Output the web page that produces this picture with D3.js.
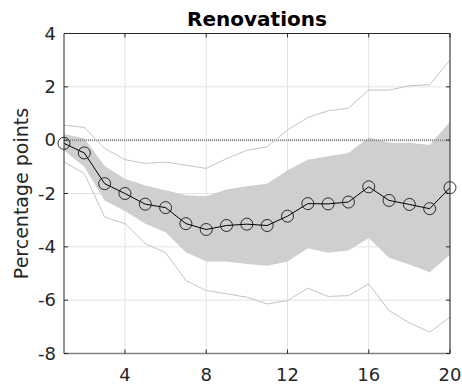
<!DOCTYPE html>
<html>
<head>
<meta charset="utf-8">
<script src="https://cdn.jsdelivr.net/npm/d3@7"></script>
<style>
  body { margin: 0; background: #fff; }
  text { font-family: "DejaVu Sans", sans-serif; fill: #262626; }
</style>
</head>
<body>
<svg class="chart" width="462" height="387"></svg>
<script>
// horizon (quarters)
const horizon = d3.range(1, 21);
// point estimate
const estimate = [-0.12, -0.48, -1.63, -2.0, -2.4, -2.53, -3.13, -3.35, -3.2, -3.15,
    -3.2, -2.85, -2.38, -2.39, -2.32, -1.75, -2.26, -2.41, -2.57, -1.78];
// inner band (shaded)
const bandUpper = [0.23, 0.06, -0.97, -1.45, -1.7, -1.88, -2.07, -2.1, -1.85, -1.73,
    -1.63, -1.13, -0.73, -0.6, -0.48, 0.1, -0.1, -0.1, -0.18, 0.69];
const bandLower = [-0.38, -1.0, -2.26, -2.66, -3.13, -3.45, -4.2, -4.55, -4.55, -4.64,
    -4.71, -4.55, -4.05, -4.22, -4.14, -3.67, -4.41, -4.66, -4.95, -4.3];
// outer band (thin lines)
const outerUpper = [0.56, 0.48, -0.31, -0.73, -0.87, -0.82, -0.94, -1.06, -0.69, -0.38,
    -0.25, 0.38, 0.85, 1.1, 1.2, 1.88, 1.88, 2.04, 2.08, 3.0];
const outerLower = [-0.82, -1.25, -2.88, -3.13, -3.88, -4.22, -5.26, -5.64, -5.76, -5.89,
    -6.14, -6.02, -5.55, -5.86, -5.83, -5.39, -6.39, -6.85, -7.2, -6.64];
const xTicks = [4, 8, 12, 16, 20];
const yTicks = [-8, -6, -4, -2, 0, 2, 4];

const margin = {left: 64, right: 12, top: 33.5, bottom: 33.5};
const width = 462, height = 387;
const svg = d3.select('.chart');

const x = d3.scaleLinear().domain([1, 20]).range([margin.left, width - margin.right]);
const y = d3.scaleLinear().domain([-8, 4]).range([height - margin.bottom, margin.top]);

// grid
svg.append('g').selectAll('line').data(xTicks).enter().append('line')
    .attr('x1', d => x(d)).attr('x2', d => x(d))
    .attr('y1', y(-8)).attr('y2', y(4))
    .style('stroke', '#e3e3e3').style('stroke-width', 1);
svg.append('g').selectAll('line').data(yTicks).enter().append('line')
    .attr('x1', x(1)).attr('x2', x(20))
    .attr('y1', d => y(d)).attr('y2', d => y(d))
    .style('stroke', '#e3e3e3').style('stroke-width', 1);

// shaded band
const area = d3.area()
    .x((d, i) => x(horizon[i]))
    .y0((d, i) => y(bandLower[i]))
    .y1((d, i) => y(bandUpper[i]));
svg.append('path').datum(horizon).attr('d', area)
    .style('fill', '#cfcfcf').style('stroke', 'none');

// zero line
svg.append('line')
    .attr('x1', x(1)).attr('x2', x(20)).attr('y1', y(0)).attr('y2', y(0))
    .style('stroke', '#8a8a8a').style('stroke-width', 2).style('stroke-dasharray', '1,1');

// outer lines
const line = d3.line().x((d, i) => x(horizon[i])).y(d => y(d));
[outerUpper, outerLower].forEach(s => {
    svg.append('path').datum(s).attr('d', line)
        .style('fill', 'none').style('stroke', '#c4c4c4').style('stroke-width', 1);
});

// estimate
svg.append('path').datum(estimate).attr('d', line)
    .style('fill', 'none').style('stroke', '#000').style('stroke-width', 1);
svg.selectAll('.dot').data(estimate).enter().append('circle')
    .classed('dot', true)
    .attr('cx', (d, i) => x(horizon[i])).attr('cy', d => y(d)).attr('r', 6)
    .style('fill', 'none').style('stroke', '#000').style('stroke-width', 0.8);

// box with inward ticks
const box = svg.append('g');
box.append('line').attr('x1', x(1)).attr('x2', x(20)).attr('y1', y(4)).attr('y2', y(4))
    .style('stroke', '#262626');
box.append('line').attr('x1', x(1)).attr('x2', x(1)).attr('y1', y(4)).attr('y2', y(-8))
    .style('stroke', '#262626');
box.append('line').attr('x1', x(20)).attr('x2', x(20)).attr('y1', y(4)).attr('y2', y(-8))
    .style('stroke', '#262626');
box.append('line').attr('x1', x(1)).attr('x2', x(20)).attr('y1', y(-8)).attr('y2', y(-8))
    .style('stroke', '#808080').style('stroke-width', 1.5);
yTicks.forEach(t => {
    box.append('line').attr('x1', x(1)).attr('x2', x(1) + 4).attr('y1', y(t)).attr('y2', y(t)).style('stroke', '#262626');
    box.append('line').attr('x1', x(20)).attr('x2', x(20) - 4).attr('y1', y(t)).attr('y2', y(t)).style('stroke', '#262626');
});
xTicks.forEach(t => {
    box.append('line').attr('x1', x(t)).attr('x2', x(t)).attr('y1', y(-8)).attr('y2', y(-8) - 4).style('stroke', '#262626');
    box.append('line').attr('x1', x(t)).attr('x2', x(t)).attr('y1', y(4)).attr('y2', y(4) + 4).style('stroke', '#262626');
});

// tick labels
svg.append('g').selectAll('text').data(yTicks).enter().append('text')
    .attr('x', x(1) - 8).attr('y', d => y(d)).attr('dy', '0.35em')
    .attr('text-anchor', 'end').style('font-size', '18px')
    .text(d => d);
svg.append('g').selectAll('text').data(xTicks).enter().append('text')
    .attr('x', d => x(d)).attr('y', y(-8) + 27)
    .attr('text-anchor', 'middle').style('font-size', '18px')
    .text(d => d);

// title and y label
svg.append('text').attr('x', (x(1) + x(20)) / 2).attr('y', 26)
    .attr('text-anchor', 'middle').style('font-size', '20px').style('font-weight', 'bold')
    .style('fill', '#000').text('Renovations');
svg.append('text')
    .attr('transform', `translate(28,${(y(4) + y(-8)) / 2}) rotate(-90)`)
    .attr('text-anchor', 'middle').style('font-size', '19px')
    .text('Percentage points');
</script>
</body>
</html>
